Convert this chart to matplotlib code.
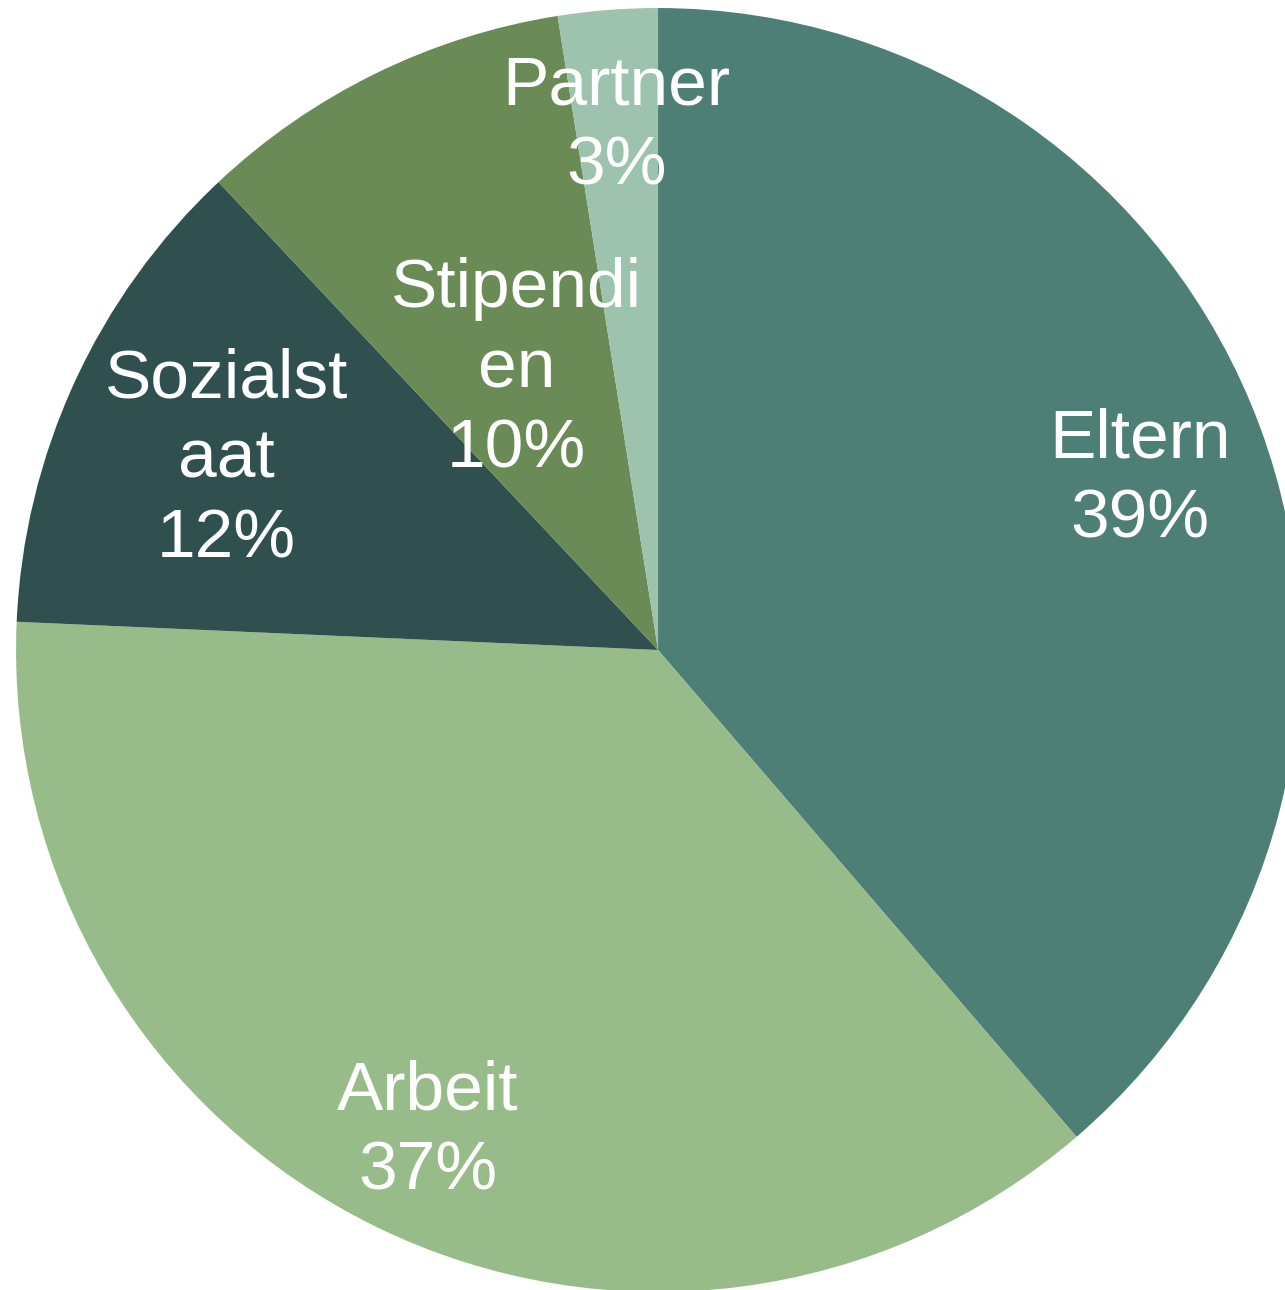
import numpy as np
import matplotlib.pyplot as plt

plt.rcParams['font.family'] = ['Liberation Sans', 'DejaVu Sans']

labels = ['Eltern', 'Arbeit', 'Sozialst\naat', 'Stipendi\nen', 'Partner']
pct_text = ['39%', '37%', '12%', '10%', '3%']
values = [38.7, 37.0, 12.3, 9.5, 2.5]
colors = ['#4E7F77', '#97BB89', '#30504F', '#6A8B55', '#9DC3AE']
label_dist = [0.80, 0.82, 0.74, 0.50, 0.83]

fig = plt.figure(figsize=(12.85, 12.90), dpi=100)
ax = fig.add_axes([0, 0, 1, 1])

wedges, _ = ax.pie(values, colors=colors, startangle=90, counterclock=False,
                   radius=1, wedgeprops=dict(linewidth=0))

for w, lab, pt, d in zip(wedges, labels, pct_text, label_dist):
    mid = np.deg2rad((w.theta1 + w.theta2) / 2)
    ax.text(d * np.cos(mid), d * np.sin(mid) - 0.012, lab + '\n' + pt,
            ha='center', va='center', color='white', fontsize=50,
            linespacing=1.32)

ax.set_xlim(-1.025, 0.9766)
ax.set_ylim(-0.9969, 1.0125)
ax.set_aspect('equal')
ax.axis('off')

fig.savefig('out.png', dpi=100)
